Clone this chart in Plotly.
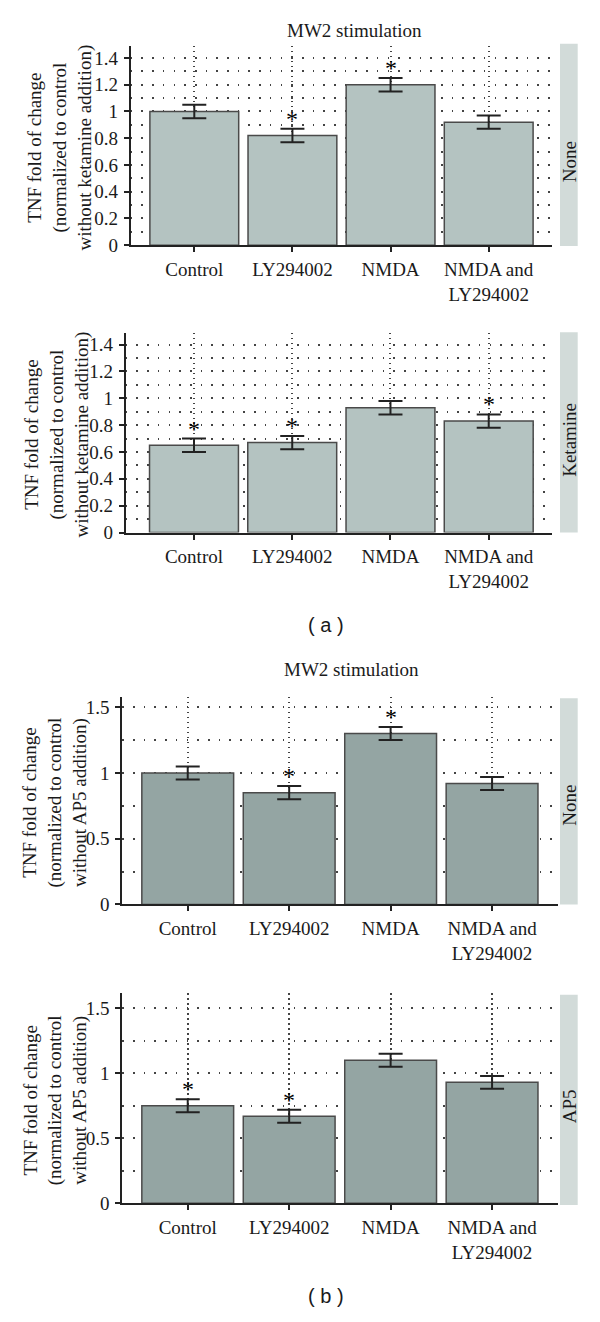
import plotly.graph_objects as go

categories = ["Control", "LY294002", "NMDA", "NMDA and<br>LY294002"]

a_none = [1.00, 0.82, 1.20, 0.92]
a_none_err = [0.05, 0.05, 0.05, 0.05]
a_none_sig = [False, True, True, False]

a_ket = [0.65, 0.67, 0.93, 0.83]
a_ket_err = [0.05, 0.05, 0.05, 0.05]
a_ket_sig = [True, True, False, True]

b_none = [1.00, 0.85, 1.30, 0.92]
b_none_err = [0.05, 0.05, 0.05, 0.05]
b_none_sig = [False, True, True, False]

b_ap5 = [0.75, 0.67, 1.10, 0.93]
b_ap5_err = [0.05, 0.05, 0.05, 0.05]
b_ap5_sig = [True, True, False, False]

W, H = 600, 1322
SERIF = "Liberation Serif"
TXT = "#1a1a1a"
DARK = "#222222"


def px(x):
    return x / W


def py(y):
    return 1 - y / H


panels = [
    dict(vals=a_none, err=a_none_err, sig=a_none_sig, color="#b4c3c1",
         xdom=(130.7, 551.7), xr=(-0.648, 3.642), ydom=(247.3, 46.3), yr=(0, 1.49),
         dtick=0.2, minor=0.1, strip="None", strip_y=(44, 248), strip_txt=163,
         ytitle="TNF fold of change<br>(normalized to control<br>without ketamine addition)", ytx=60),
    dict(vals=a_ket, err=a_ket_err, sig=a_ket_sig, color="#b4c3c1",
         xdom=(125.7, 551.7), xr=(-0.695, 3.641), ydom=(537, 335.3), yr=(0, 1.49),
         dtick=0.2, minor=0.1, strip="Ketamine", strip_y=(335, 537), strip_txt=444,
         ytitle="TNF fold of change<br>(normalized to control<br>without ketamine addition)", ytx=57),
    dict(vals=b_none, err=b_none_err, sig=b_none_sig, color="#94a5a3",
         xdom=(122.3, 557.5), xr=(-0.645, 3.645), ydom=(912, 702.6), yr=(0, 1.58),
         dtick=0.5, minor=0.25, strip="None", strip_y=(704, 912), strip_txt=812,
         ytitle="TNF fold of change<br>(normalized to control<br>without AP5 addition)", ytx=55),
    dict(vals=b_ap5, err=b_ap5_err, sig=b_ap5_sig, color="#94a5a3",
         xdom=(122.3, 557.5), xr=(-0.645, 3.645), ydom=(1213.3, 1001.7), yr=(0, 1.615),
         dtick=0.5, minor=0.25, strip="AP5", strip_y=(1003, 1215), strip_txt=1116,
         ytitle="TNF fold of change<br>(normalized to control<br>without AP5 addition)", ytx=55),
]

fig = go.Figure()
annotations = []
shapes = []
layout = {}

for i, p in enumerate(panels, start=1):
    xa = "x" if i == 1 else f"x{i}"
    ya = "y" if i == 1 else f"y{i}"
    xkey = "xaxis" if i == 1 else f"xaxis{i}"
    ykey = "yaxis" if i == 1 else f"yaxis{i}"

    fig.add_trace(go.Bar(
        x=categories, y=p["vals"], xaxis=xa, yaxis=ya, width=0.905,
        marker=dict(color=p["color"], line=dict(color="#4a4a4a", width=1.5)),
        error_y=dict(type="data", array=p["err"], visible=True, color=DARK,
                     thickness=2, width=12),
        showlegend=False, hoverinfo="skip",
    ))

    layout[xkey] = dict(
        domain=[px(p["xdom"][0]), px(p["xdom"][1])], range=list(p["xr"]),
        anchor=ya, type="category", categoryorder="array", categoryarray=categories,
        showline=True, linewidth=2, linecolor=DARK, mirror=False,
        ticks="outside", ticklen=5, tickwidth=1.5, tickcolor=DARK,
        showgrid=True, gridcolor="#444444", gridwidth=1.5, griddash="1.5px,3.5px",
        tickfont=dict(family=SERIF, size=19, color=TXT), ticklabelstandoff=1,
        zeroline=False, fixedrange=True,
    )
    layout[ykey] = dict(
        domain=[py(p["ydom"][0]), py(p["ydom"][1])], range=list(p["yr"]),
        anchor=xa, tick0=0, dtick=p["dtick"],
        showline=True, linewidth=2, linecolor=DARK,
        ticks="outside", ticklen=5, tickwidth=1.5, tickcolor=DARK,
        showgrid=True, gridcolor="#444444", gridwidth=1.6, griddash="1.6px,9.1px",
        minor=dict(dtick=p["minor"], tick0=0, showgrid=True, gridcolor="#444444",
                   gridwidth=1.6, griddash="1.6px,9.1px", ticks=""),
        tickfont=dict(family=SERIF, size=19, color=TXT), ticklabelstandoff=2,
        zeroline=False, fixedrange=True,
    )

    # significance stars
    for c, v, e, s in zip(categories, p["vals"], p["err"], p["sig"]):
        if s:
            annotations.append(dict(
                x=c, y=v + e, xref=xa, yref=ya, text="*", showarrow=False,
                yanchor="middle", yshift=10,
                font=dict(family=SERIF, size=24, color="#000000")))

    # y-axis title
    annotations.append(dict(
        x=px(p["ytx"]), y=py((p["ydom"][0] + p["ydom"][1]) / 2 + 2), xref="paper", yref="paper",
        text=p["ytitle"], textangle=-90, showarrow=False, xanchor="center", yanchor="middle",
        font=dict(family=SERIF, size=19, color=TXT)))

    # facet strip
    shapes.append(dict(type="rect", xref="paper", yref="paper",
                       x0=px(560), x1=px(577.7), y0=py(p["strip_y"][1]), y1=py(p["strip_y"][0]),
                       fillcolor="#d2dbd9", line=dict(width=0), layer="below"))
    annotations.append(dict(
        x=px(569.5), y=py(p["strip_txt"]), xref="paper", yref="paper",
        text=p["strip"], textangle=-90, showarrow=False, xanchor="center", yanchor="middle",
        font=dict(family=SERIF, size=19, color=TXT)))

# titles
for tx, ty in [(354, 31), (351, 675)]:
    annotations.append(dict(x=px(tx), y=py(ty), xref="paper", yref="paper",
                            text="MW2 stimulation", showarrow=False,
                            xanchor="center", yanchor="middle",
                            font=dict(family=SERIF, size=19, color=TXT)))

for lbl, ty in [("( a )", 630), ("( b )", 1307)]:
    annotations.append(dict(x=px(326), y=py(ty), xref="paper", yref="paper",
                            text=lbl, showarrow=False, xanchor="center", yanchor="middle",
                            font=dict(family="Liberation Sans", size=20, color=TXT)))

fig.update_layout(
    width=W, height=H, margin=dict(l=0, r=0, t=0, b=0),
    paper_bgcolor="white", plot_bgcolor="white",
    annotations=annotations, shapes=shapes, bargap=0.1,
    **layout,
)

fig.write_html("out.html", config={"displayModeBar": False},
               post_script="document.body.style.margin='0px';document.body.style.overflow='hidden';")
